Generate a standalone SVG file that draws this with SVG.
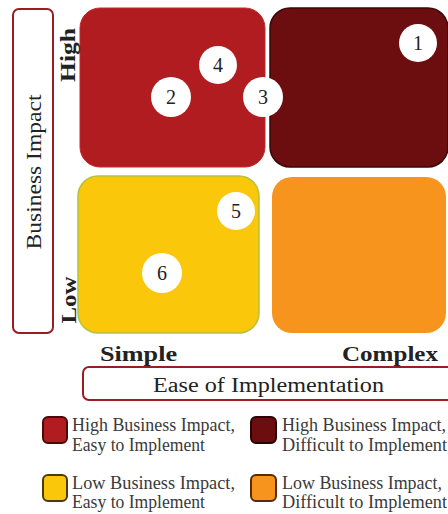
<svg xmlns="http://www.w3.org/2000/svg" width="448" height="514" viewBox="0 0 448 514">
<style>
.t{font-family:"Liberation Serif","DejaVu Serif",serif;fill:#222}
.b{font-weight:bold}
.num{font-family:"Liberation Serif","DejaVu Serif",serif;font-size:20px;fill:#222;text-anchor:middle}
.c{fill:#fff}
.lg{stroke-width:2}
.l{font-size:18px;fill:#3a3a3a}
</style>
<rect width="448" height="514" fill="#fff"/>
<g id="quadrant-hi-easy"><rect x="80" y="8" width="185" height="159" rx="20" fill="#b01c20" stroke="#c22a2a" stroke-width="1"/></g>
<g id="quadrant-hi-hard"><rect x="270" y="8" width="178" height="159" rx="20" fill="#6c0e0f" stroke="#3a0808" stroke-width="1.5"/></g>
<g id="quadrant-lo-easy"><rect x="78" y="176" width="181" height="157" rx="20" fill="#fbc70b" stroke="#b5c23c" stroke-width="1.5"/></g>
<g id="quadrant-lo-hard"><rect x="272" y="177" width="174" height="156" rx="20" fill="#f7941d"/></g>
<g id="item-1"><circle class="c" cx="418" cy="43" r="19"/><text class="num" x="418" y="50">1</text></g>
<g id="item-2"><circle class="c" cx="171" cy="97" r="20"/><text class="num" x="171" y="104">2</text></g>
<g id="item-4"><circle class="c" cx="218" cy="65" r="19"/><text class="num" x="218" y="72">4</text></g>
<g id="item-3"><circle class="c" cx="263" cy="97" r="20"/><text class="num" x="263" y="104">3</text></g>
<g id="item-5"><circle class="c" cx="236" cy="211" r="19"/><text class="num" x="236" y="218">5</text></g>
<g id="item-6"><circle class="c" cx="162" cy="273" r="20"/><text class="num" x="162" y="280">6</text></g>
<g id="y-axis"><rect x="13" y="9" width="40" height="324" rx="6" fill="#fff" stroke="#9b1c22" stroke-width="2"/>
<text class="t" font-size="20" text-anchor="middle" textLength="155" lengthAdjust="spacingAndGlyphs" transform="translate(41,172) rotate(-90)">Business Impact</text>
<text class="t b" font-size="22" text-anchor="middle" textLength="54" lengthAdjust="spacingAndGlyphs" transform="translate(75,55) rotate(-90)">High</text>
<text class="t b" font-size="22" text-anchor="middle" textLength="47" lengthAdjust="spacingAndGlyphs" transform="translate(76,300) rotate(-90)">Low</text></g>
<g id="x-axis"><text class="t b" font-size="21" x="100" y="361" textLength="77" lengthAdjust="spacingAndGlyphs">Simple</text>
<text class="t b" font-size="21" x="342" y="361" textLength="96" lengthAdjust="spacingAndGlyphs">Complex</text>
<rect x="83" y="367" width="370" height="33" rx="6" fill="#fff" stroke="#9b1c22" stroke-width="2"/>
<text class="t" font-size="20" x="153" y="392" textLength="231" lengthAdjust="spacingAndGlyphs">Ease of Implementation</text></g>
<g id="legend">
<rect class="lg" x="43" y="417" width="24" height="26" rx="5" fill="#b01c20" stroke="#4a0a0a"/>
<text class="t l" x="72" y="431" textLength="163" lengthAdjust="spacingAndGlyphs">High Business Impact,</text><text class="t l" x="72" y="451" textLength="133" lengthAdjust="spacingAndGlyphs">Easy to Implement</text>
<rect class="lg" x="251" y="417" width="25" height="26" rx="5" fill="#6c0e0f" stroke="#2a0505"/>
<text class="t l" x="282" y="431" textLength="164" lengthAdjust="spacingAndGlyphs">High Business Impact,</text><text class="t l" x="282" y="451" textLength="165" lengthAdjust="spacingAndGlyphs">Difficult to Implement</text>
<rect class="lg" x="43" y="475" width="24" height="26" rx="5" fill="#fbc70b" stroke="#4a3a0a"/>
<text class="t l" x="72" y="489" textLength="163" lengthAdjust="spacingAndGlyphs">Low Business Impact,</text><text class="t l" x="72" y="508" textLength="133" lengthAdjust="spacingAndGlyphs">Easy to Implement</text>
<rect class="lg" x="251" y="475" width="25" height="26" rx="5" fill="#f7941d" stroke="#5a2a05"/>
<text class="t l" x="282" y="489" textLength="160" lengthAdjust="spacingAndGlyphs">Low Business Impact,</text><text class="t l" x="282" y="508" textLength="165" lengthAdjust="spacingAndGlyphs">Difficult to Implement</text>
</g>
</svg>
